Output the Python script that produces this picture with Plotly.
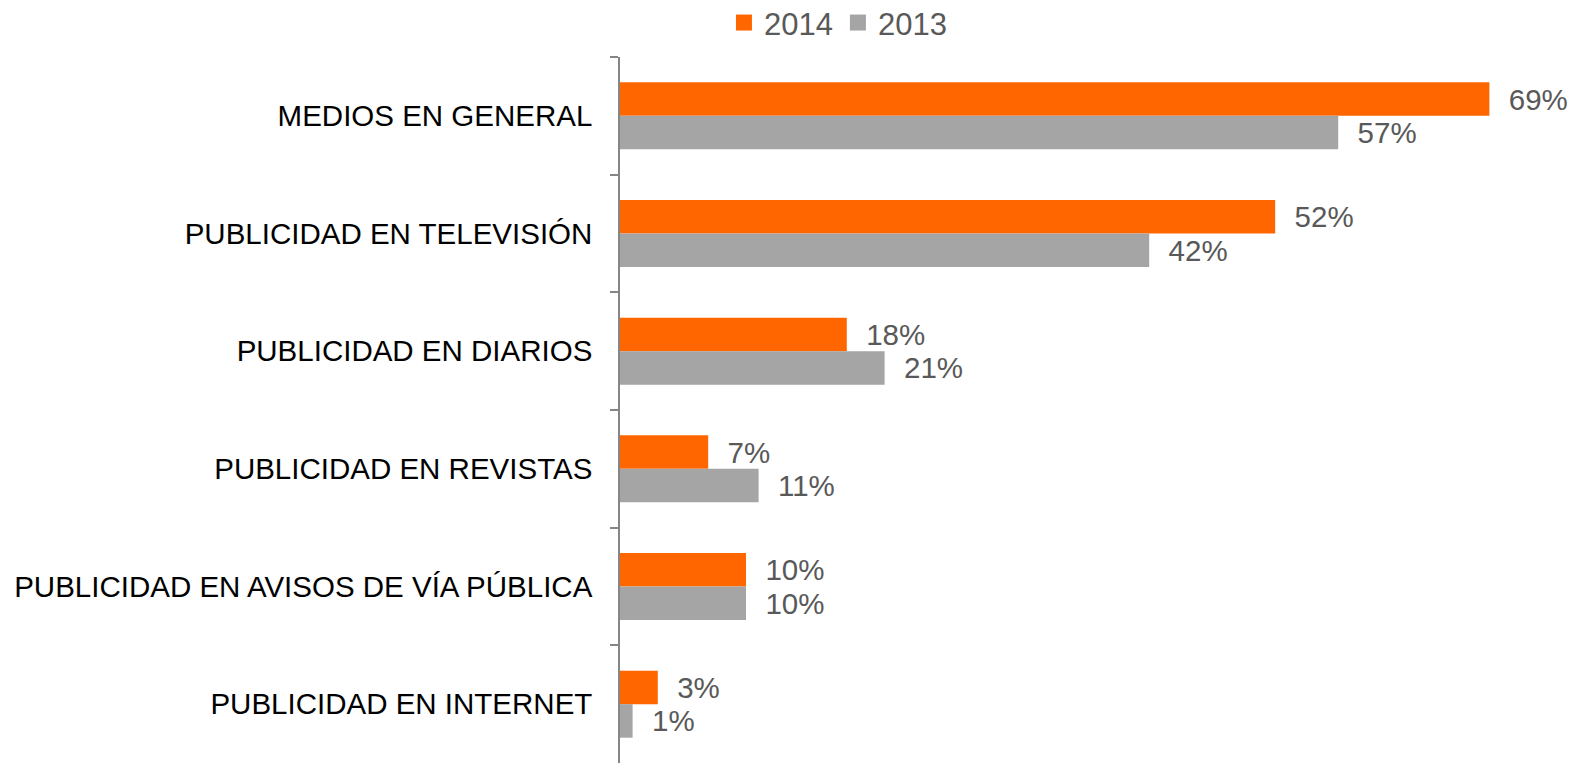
import plotly.graph_objects as go

categories = [
    "MEDIOS EN GENERAL",
    "PUBLICIDAD EN TELEVISIÓN",
    "PUBLICIDAD EN DIARIOS",
    "PUBLICIDAD EN REVISTAS",
    "PUBLICIDAD EN AVISOS DE VÍA PÚBLICA",
    "PUBLICIDAD EN INTERNET",
]
values_2014 = [69, 52, 18, 7, 10, 3]
values_2013 = [57, 42, 21, 11, 10, 1]

ORANGE = "#FF6600"
GRAY = "#A5A5A5"
TEXT_GRAY = "#595959"
FONT = "Liberation Sans, Arial, sans-serif"

fig = go.Figure()

for name, vals, color in [("2014", values_2014, ORANGE), ("2013", values_2013, GRAY)]:
    fig.add_trace(go.Bar(
        name=name,
        x=vals,
        y=categories,
        orientation="h",
        marker=dict(color=color, line=dict(width=0)),
        text=[f"\u00a0\u00a0{v}%" for v in vals],
        textposition="outside",
        textfont=dict(family=FONT, size=29.5, color=TEXT_GRAY),
        cliponaxis=False,
        showlegend=False,
    ))
    # square legend swatch
    fig.add_trace(go.Scatter(
        name=name,
        x=[None],
        y=[None],
        mode="markers",
        marker=dict(symbol="square", size=17, color=color),
        showlegend=True,
    ))

fig.update_layout(
    width=1572,
    height=763,
    margin=dict(l=620, r=7, t=57, b=0, autoexpand=False),
    paper_bgcolor="white",
    plot_bgcolor="white",
    barmode="group",
    bargap=0.43,
    bargroupgap=0,
    font=dict(family=FONT, color=TEXT_GRAY),
    legend=dict(
        orientation="h",
        x=0.11,
        xanchor="left",
        y=0.970,
        yanchor="middle",
        yref="container",
        font=dict(family=FONT, size=31, color=TEXT_GRAY),
        itemwidth=30,
        bgcolor="rgba(0,0,0,0)",
    ),
    xaxis=dict(
        range=[0, 75],
        visible=False,
        showgrid=False,
        zeroline=False,
    ),
    yaxis=dict(
        type="category",
        autorange="reversed",
        showline=True,
        linecolor="#868686",
        linewidth=1.5,
        ticks="outside",
        tickson="boundaries",
        ticklen=8,
        tickcolor="#868686",
        tickwidth=1.5,
        ticklabelstandoff=20,
        showgrid=False,
        tickfont=dict(family=FONT, size=29.5, color="#000000"),
    ),
)

fig.write_html("out.html")
